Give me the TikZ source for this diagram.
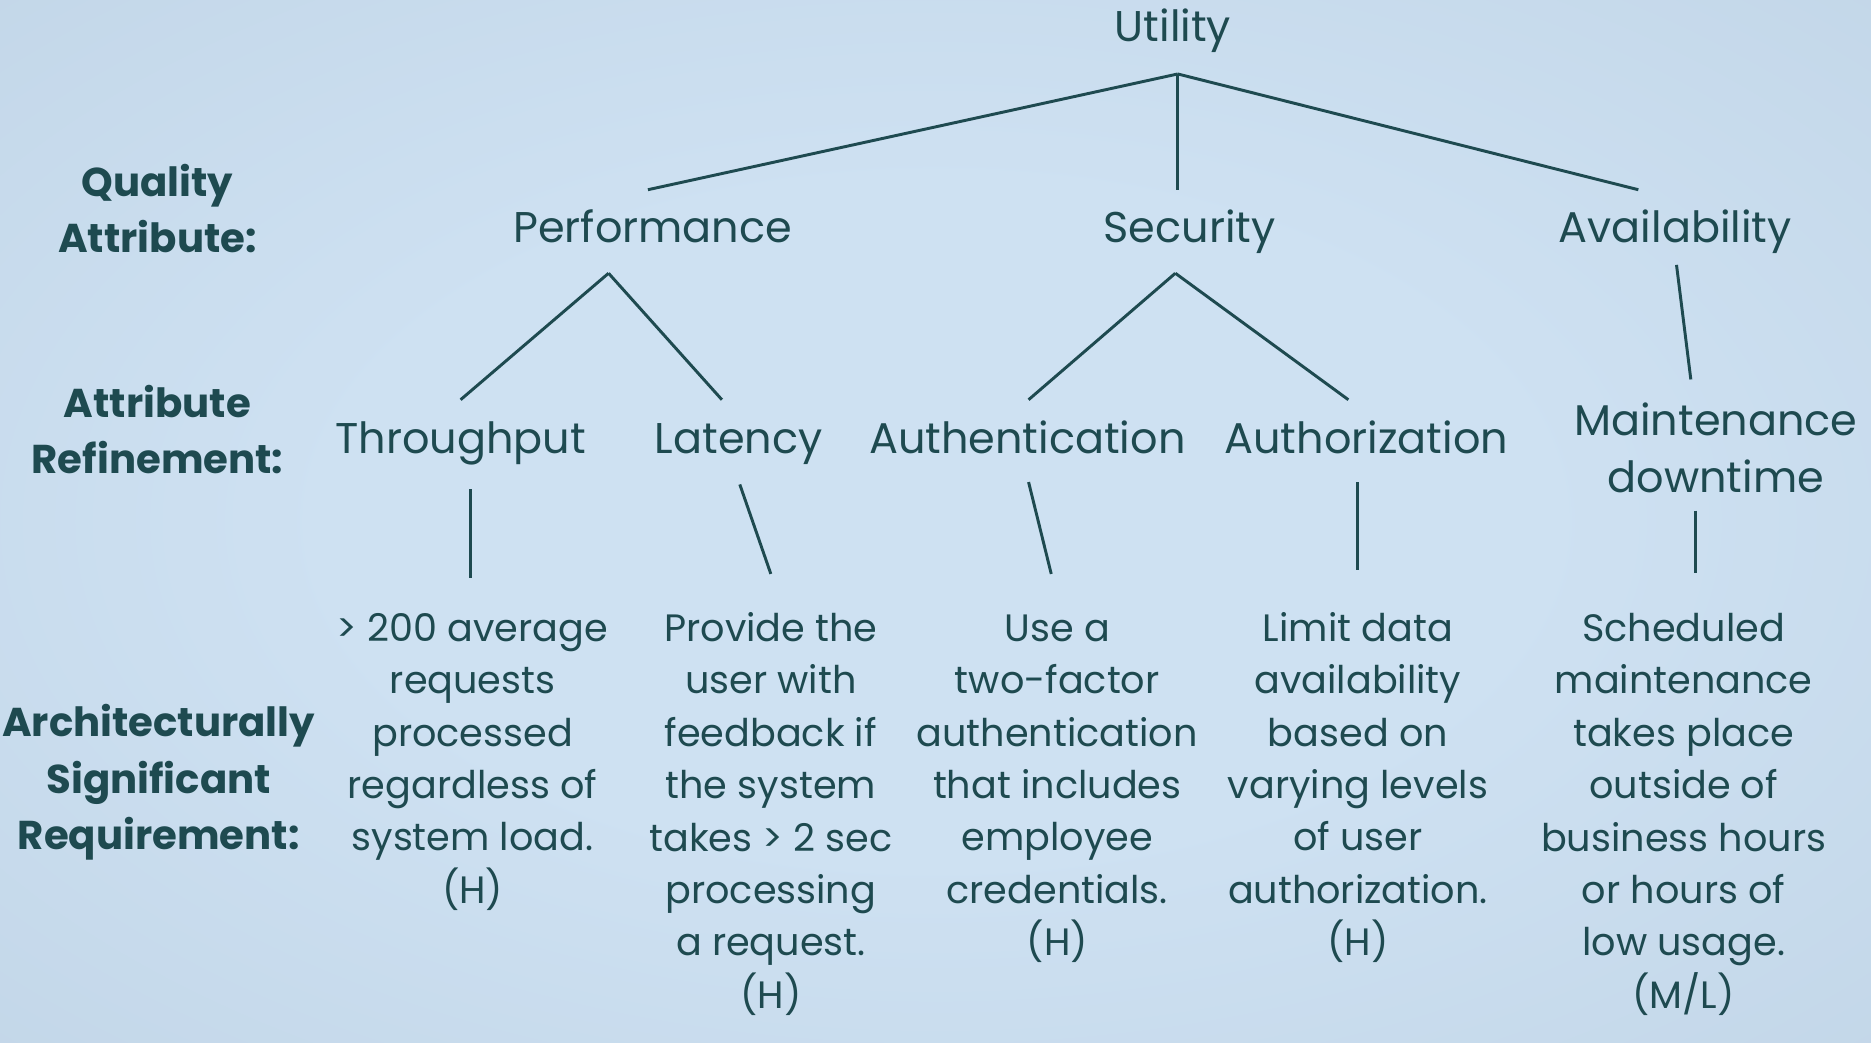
\documentclass[tikz,border=0pt]{standalone}
\usepackage{fontspec}
\setmainfont{Poppins}
\usetikzlibrary{positioning}
\definecolor{ink}{HTML}{1E4A50}
\definecolor{bgin}{HTML}{CEE1F2}
\definecolor{bgmid}{HTML}{BFD3E5}
\definecolor{bgout}{HTML}{98ABBB}
\pgfdeclareradialshading{bgshade}{\pgfpoint{0bp}{0bp}}{color(0bp)=(bgin); color(16bp)=(bgin); color(44bp)=(bgmid); color(72bp)=(bgout)}
\tikzstyle{item} = [text=ink, font=\fontsize{20.5}{27.3}\selectfont, align=center, inner sep=0pt, anchor=base]
\tikzstyle{req} = [text=ink, font=\fontsize{18.2}{25}\selectfont, align=center, inner sep=0pt, anchor=base]
\tikzstyle{level} = [text=ink, font=\bfseries\fontsize{19.2}{26.9}\selectfont, align=center, inner sep=0pt, anchor=base]
\tikzstyle{branch} = [ink, line width=1.4pt]

\begin{document}
\begin{tikzpicture}[x=0.02cm, y=-0.02cm]
    \shade[shading=bgshade] (0,0) rectangle (1568,874);
    \useasboundingbox (0,0) rectangle (1568,874);

    % row labels (placed by their last line)
    \node (qa) [level] at (132,212) {Quality\\Attribute:};
    \node (ar) [level] at (132,397) {Attribute\\Refinement:};
    \node (asr) [level] at (133,712) {Architecturally\\Significant\\Requirement:};

    % tree
    \node (util) [item] at (983,35) {Utility};
    \node (perf) [item] at (547,203) {Performance};
    \node (sec) [item] at (997,203) {Security};
    \node (avail) [item] at (1404,203) {Availability};

    \node (thru) [item] at (386,380) {Throughput};
    \node (lat) [item] at (619,380) {Latency};
    \node (authn) [item] at (861,380) {Authentication};
    \node (authz) [item] at (1145,380) {Authorization};
    \node (maint) [item] at (1438,413) {Maintenance\\downtime};

    \node (r1) [req] at (396,757) {> 200 average\\requests\\processed\\regardless of\\system load.\\(H)};
    \node (r2) [req] at (646,845) {Provide the\\user with\\feedback if\\the system\\takes > 2 sec\\processing\\a request.\\(H)};
    \node (r3) [req] at (886,801) {Use a\\two-factor\\authentication\\that includes\\employee\\credentials.\\(H)};
    \node (r4) [req] at (1138,801) {Limit data\\availability\\based on\\varying levels\\of user\\authorization.\\(H)};
    \node (r5) [req] at (1411,845) {Scheduled\\maintenance\\takes place\\outside of\\business hours\\or hours of\\low usage.\\(M/L)};

    % branch points
    \coordinate (util-j) at (987,62);
    \coordinate (perf-in) at (543,159);
    \coordinate (sec-in) at (987,159);
    \coordinate (avail-in) at (1373,159);
    \coordinate (perf-j) at (510,229);
    \coordinate (thru-in) at (386,335);
    \coordinate (lat-in) at (605,335);
    \coordinate (sec-j) at (985,229);
    \coordinate (authn-in) at (862,335);
    \coordinate (authz-in) at (1130,335);
    \coordinate (avail-j) at (1405,222);
    \coordinate (maint-in) at (1417,318);
    \coordinate (thru-j) at (394,410);
    \coordinate (r1-in) at (394,484);
    \coordinate (lat-j) at (620,406);
    \coordinate (r2-in) at (646,481);
    \coordinate (authn-j) at (862,404);
    \coordinate (r3-in) at (881,481);
    \coordinate (authz-j) at (1138,404);
    \coordinate (r4-in) at (1138,478);
    \coordinate (maint-j) at (1421,428);
    \coordinate (r5-in) at (1421,480);

    \draw [branch] (util-j) -- (perf-in);
    \draw [branch] (util-j) -- (sec-in);
    \draw [branch] (util-j) -- (avail-in);
    \draw [branch] (perf-j) -- (thru-in);
    \draw [branch] (perf-j) -- (lat-in);
    \draw [branch] (sec-j) -- (authn-in);
    \draw [branch] (sec-j) -- (authz-in);
    \draw [branch] (avail-j) -- (maint-in);
    \draw [branch] (thru-j) -- (r1-in);
    \draw [branch] (lat-j) -- (r2-in);
    \draw [branch] (authn-j) -- (r3-in);
    \draw [branch] (authz-j) -- (r4-in);
    \draw [branch] (maint-j) -- (r5-in);
\end{tikzpicture}
\end{document}
